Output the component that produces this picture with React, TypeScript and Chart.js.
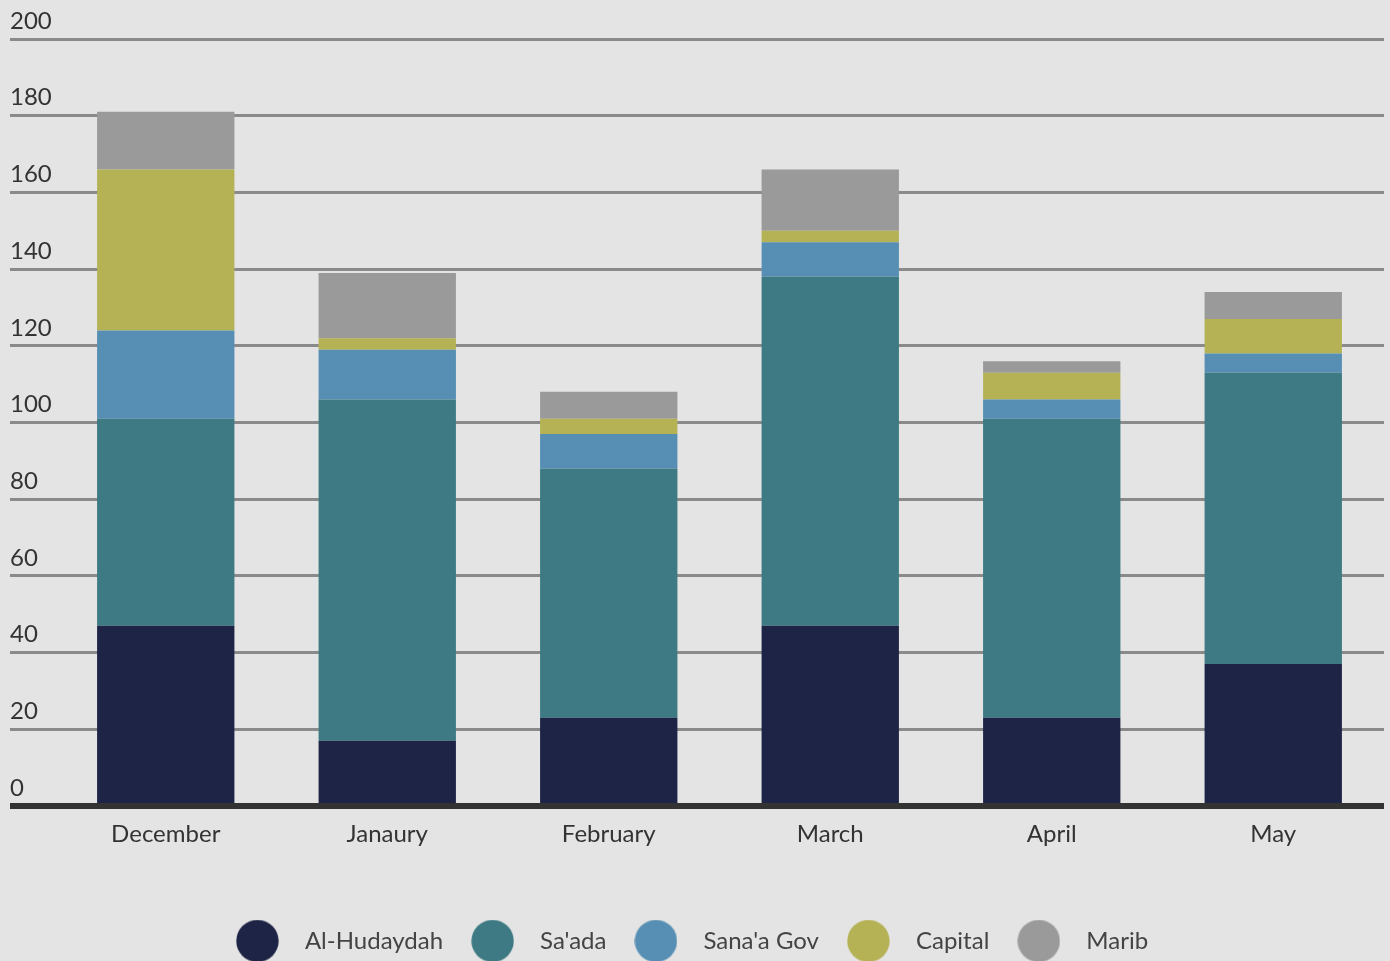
import { useEffect, useRef } from "react"
import { Chart, registerables } from "chart.js"

Chart.register(...registerables)

// data
const months = ["December", "Janaury", "February", "March", "April", "May"]
const seriesNames = ["Al-Hudaydah", "Sa'ada", "Sana'a Gov", "Capital", "Marib"]
const alHudaydah = [47, 17, 23, 47, 23, 37]
const saada = [54, 89, 65, 91, 78, 76]
const sanaaGov = [23, 13, 9, 9, 5, 5]
const capital = [42, 3, 4, 3, 7, 9]
const marib = [15, 17, 7, 16, 3, 7]
const yTicks = [0, 20, 40, 60, 80, 100, 120, 140, 160, 180, 200]

const colors = ["#1e2446", "#3d7a83", "#568fb3", "#b5b256", "#9a9a9a"]

function legendDot(color: string) {
  const c = document.createElement("canvas")
  c.width = 43
  c.height = 43
  const g = c.getContext("2d")
  if (g) {
    g.fillStyle = color
    g.beginPath()
    g.arc(21.5, 21.5, 21.2, 0, Math.PI * 2)
    g.fill()
  }
  return c
}

// zero line is drawn over the bars
const zeroLine = {
  id: "zeroLine",
  afterDatasetsDraw(chart: any) {
    const y = chart.scales.y.getPixelForValue(0)
    const ctx = chart.ctx
    ctx.save()
    ctx.strokeStyle = "#333333"
    ctx.lineWidth = 6
    ctx.beginPath()
    ctx.moveTo(10, y)
    ctx.lineTo(chart.chartArea.right, y)
    ctx.stroke()
    ctx.restore()
  },
}

// nudge the legend a little left and down
const legendShift = {
  id: "legendShift",
  afterLayout(chart: any) {
    const lg = chart.legend
    if (!lg) return
    lg.left -= 12
    lg.right -= 12
    lg.top += 2
    lg.bottom += 2
  },
}

export default function App() {
  const chartRef = useRef<HTMLCanvasElement>(null)
  const chartInstance = useRef<Chart | null>(null)

  useEffect(() => {
    document.body.style.margin = "0"
    if (!chartRef.current) return
    if (chartInstance.current) chartInstance.current.destroy()

    const values = [alHudaydah, saada, sanaaGov, capital, marib]
    const ctx = chartRef.current.getContext("2d")
    if (!ctx) return

    chartInstance.current = new Chart(ctx, {
      type: "bar",
      data: {
        labels: months,
        datasets: seriesNames.map((name, i) => ({
          label: name,
          data: values[i],
          backgroundColor: colors[i],
          borderWidth: 0,
          pointStyle: legendDot(colors[i]) as any,
          categoryPercentage: 1,
          barPercentage: 0.62,
        })),
      },
      options: {
        responsive: true,
        maintainAspectRatio: false,
        animation: false,
        font: { family: "Lato", size: 24 },
        layout: { padding: { top: 39, left: 10, right: 6, bottom: 0 } },
        scales: {
          x: {
            stacked: true,
            grid: { display: false, drawTicks: false },
            border: { display: false },
            ticks: {
              color: "#333333",
              font: { family: "Lato", size: 24 },
              padding: 14,
            },
            afterFit: (scale: any) => {
              scale.height = 107
            },
          },
          y: {
            stacked: true,
            min: 0,
            max: 200,
            afterBuildTicks: (scale: any) => {
              scale.ticks = yTicks.map((v) => ({ value: v }))
            },
            grid: {
              color: (c: any) => (c.tick && c.tick.value === 0 ? "#333333" : "#8a8a8a"),
              lineWidth: (c: any) => (c.tick && c.tick.value === 0 ? 6 : 3),
              drawTicks: true,
              tickLength: 45,
            },
            border: { display: false },
            ticks: {
              color: "#333333",
              font: { family: "Lato", size: 24 },
              crossAlign: "far",
              padding: 0,
              labelOffset: -18,
            },
            afterFit: (scale: any) => {
              scale.width = 45
            },
          },
        },
        plugins: {
          title: { display: false },
          tooltip: { enabled: false },
          legend: {
            position: "bottom",
            align: "center",
            labels: {
              usePointStyle: true,
              pointStyleWidth: 71,
              padding: 14,
              color: "#444444",
              font: { family: "Lato", size: 24 },
            },
          },
        },
      },
      plugins: [zeroLine, legendShift],
    })

    return () => {
      if (chartInstance.current) {
        chartInstance.current.destroy()
        chartInstance.current = null
      }
    }
  }, [])

  return (
    <div style={{ width: 1390, height: 961, background: "#e4e4e4", position: "relative" }}>
      <canvas ref={chartRef} />
    </div>
  )
}
